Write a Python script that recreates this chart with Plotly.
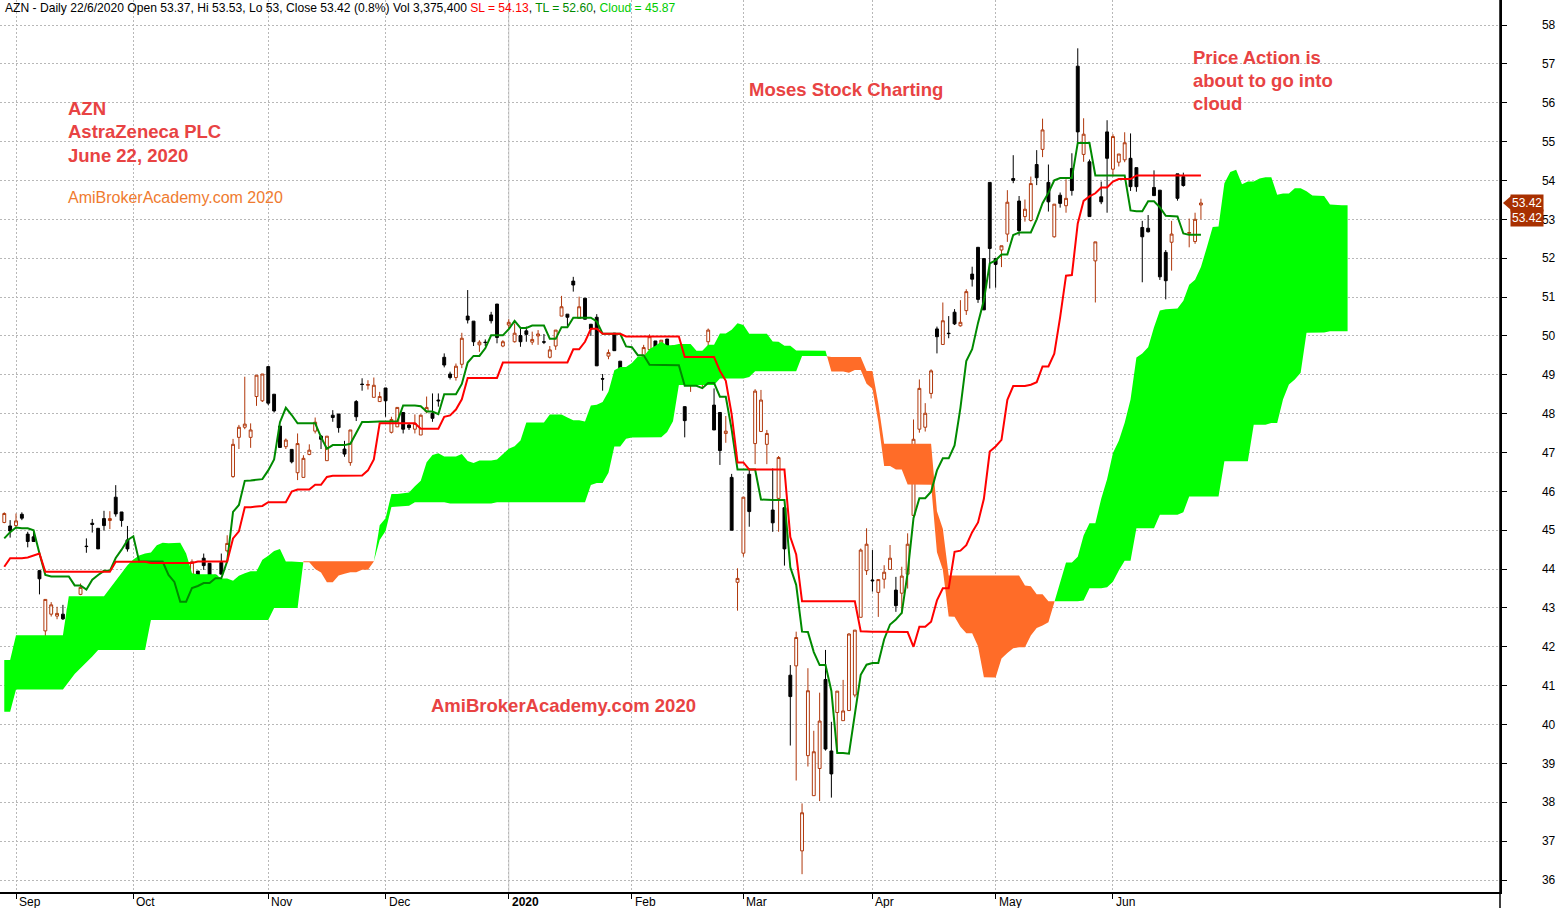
import numpy as np
import pandas as pd
import plotly.graph_objects as go

# ---------------- data ----------------
symbol = "AZN"
company = "AstraZeneca PLC"
chart_date = "June 22, 2020"
site = "AmiBrokerAcademy.com 2020"
title_note = "Moses Stock Charting"
comment_lines = ["Price Action is", "about to go into", "cloud"]
last_volume = "3,375,400"

holidays = ["2019-09-02", "2019-11-28", "2019-12-25", "2020-01-01",
            "2020-01-20", "2020-02-17", "2020-04-10", "2020-05-25"]
dates = [d for d in pd.bdate_range("2019-08-29", "2020-06-22")
         if d.strftime("%Y-%m-%d") not in holidays]

open_ = [45.20, 45.11, 45.12, 45.41, 44.90, 44.83, 43.96, 42.41, 42.84, 42.79,
         42.84, 42.99, 43.08, 43.35, 44.59, 45.18, 45.05, 45.30, 45.25, 45.85,
         45.47, 44.75, 44.00, 42.79, 42.84, 43.33, 43.39, 43.40, 43.46, 43.16,
         43.72, 43.95, 43.70, 43.95, 44.28, 44.15, 43.84, 44.17, 44.47, 46.38,
         47.39, 47.65, 47.39, 48.44, 48.33, 49.21, 48.50, 47.68, 47.15, 47.08,
         46.48, 46.36, 46.95, 47.55, 47.42, 46.79, 47.96, 47.99, 47.09, 46.74,
         48.31, 48.76, 48.73, 48.42, 48.31, 48.66, 47.52, 47.66, 48.03, 47.71,
         47.60, 47.45, 48.05, 48.01, 48.35, 49.45, 49.02, 48.93, 49.27, 50.51,
         50.38, 49.77, 49.84, 50.54, 50.82, 49.74, 50.28, 49.85, 50.01, 50.13,
         49.84, 50.00, 49.85, 49.45, 49.74, 50.51, 50.56, 51.41, 50.45, 50.97,
         50.30, 50.48, 48.90, 49.48, 50.07, 49.35, 49.15, 48.61, 48.72, 49.42,
         49.65, 49.87, 49.45, 49.92, 49.74, 48.78, 48.18, 48.92, 49.34, 48.85,
         49.85, 48.22, 48.03, 47.49, 46.36, 43.66, 44.41, 46.44, 47.23, 47.54,
         47.21, 45.52, 45.82, 45.58, 41.27, 41.51, 36.75, 39.20, 38.17, 38.87,
         41.16, 39.32, 40.31, 40.10, 40.36, 40.76, 42.76, 43.96, 43.72, 43.40,
         43.74, 43.99, 43.46, 43.38, 43.87, 45.38, 47.60, 47.65, 48.52, 50.18,
         49.78, 50.07, 50.61, 50.26, 50.65, 51.59, 52.28, 51.99, 53.95, 51.99,
         52.21, 52.62, 54.05, 53.47, 53.07, 52.97, 54.41, 54.80, 53.95, 52.55,
         53.62, 53.35, 54.31, 56.94, 54.67, 54.48, 51.93, 53.58, 55.25, 54.29,
         54.47, 54.53, 54.57, 54.33, 52.79, 52.77, 53.82, 53.75, 52.15, 52.41,
         54.17, 54.10, 52.64, 52.43, 53.37]
high = [45.46, 45.26, 45.43, 45.46, 44.96, 45.00, 43.98, 43.22, 43.15, 43.03,
        43.08, 43.01, 43.20, 43.63, 44.79, 45.29, 45.05, 45.50, 45.49, 46.16,
        45.47, 45.11, 44.06, 42.90, 43.20, 43.45, 43.74, 43.40, 43.55, 43.56,
        44.09, 44.04, 44.25, 43.95, 44.40, 44.15, 43.84, 44.40, 44.87, 47.35,
        47.71, 48.95, 47.75, 48.99, 49.02, 49.21, 48.50, 47.68, 47.36, 47.08,
        47.49, 46.93, 47.21, 47.90, 47.45, 47.42, 48.09, 47.99, 47.30, 47.58,
        48.35, 48.91, 48.86, 48.93, 48.56, 48.66, 47.92, 48.16, 48.03, 47.75,
        47.98, 47.98, 48.44, 48.52, 48.52, 49.55, 49.08, 49.29, 50.08, 51.18,
        50.38, 49.89, 49.91, 50.62, 50.82, 49.89, 50.43, 50.32, 50.20, 50.24,
        50.11, 50.15, 50.05, 49.74, 50.15, 51.03, 50.56, 51.52, 51.01, 50.97,
        50.30, 50.56, 49.02, 49.65, 50.07, 49.35, 49.15, 48.89, 49.04, 49.77,
        50.04, 49.87, 49.89, 49.92, 49.74, 49.51, 48.18, 49.10, 49.51, 49.12,
        50.19, 48.65, 48.03, 47.94, 46.45, 44.02, 45.85, 46.59, 48.63, 48.61,
        47.58, 46.59, 46.91, 45.58, 41.53, 42.39, 37.97, 41.45, 39.84, 40.82,
        41.92, 40.07, 40.86, 41.15, 42.35, 42.43, 44.53, 45.05, 44.49, 43.73,
        44.10, 44.62, 43.80, 44.06, 44.92, 47.85, 48.88, 48.27, 49.14, 50.24,
        50.86, 50.51, 50.69, 50.92, 51.20, 51.78, 52.28, 51.99, 53.95, 51.99,
        52.32, 53.75, 54.65, 53.60, 53.51, 54.10, 54.78, 55.59, 54.41, 53.39,
        53.69, 54.03, 54.70, 57.40, 55.60, 54.54, 52.42, 53.97, 55.55, 55.19,
        54.68, 55.24, 55.21, 54.33, 52.96, 53.11, 54.26, 53.75, 52.21, 52.96,
        54.17, 54.20, 53.02, 53.17, 53.53]
low = [45.18, 44.81, 45.05, 45.26, 44.56, 44.71, 43.35, 42.16, 42.78, 42.71,
       42.69, 42.41, 42.84, 43.33, 44.42, 44.94, 44.52, 44.99, 45.03, 45.35,
       45.09, 44.45, 43.53, 42.23, 42.78, 43.12, 43.37, 42.88, 43.36, 43.13,
       43.53, 43.81, 43.65, 43.59, 43.98, 43.63, 43.61, 43.87, 44.43, 46.35,
       47.09, 47.60, 47.12, 48.20, 48.30, 48.22, 48.03, 47.13, 47.09, 46.72,
       46.29, 46.36, 46.93, 47.49, 47.09, 46.79, 47.79, 47.51, 46.89, 46.66,
       47.81, 48.59, 48.62, 48.42, 48.31, 47.92, 47.49, 47.66, 47.49, 47.58,
       47.49, 47.45, 48.01, 47.79, 48.18, 49.19, 48.88, 48.85, 49.17, 50.32,
       49.74, 49.59, 49.74, 50.32, 49.81, 49.71, 50.20, 49.83, 49.72, 49.85,
       49.77, 49.77, 49.79, 49.42, 49.64, 50.51, 50.24, 51.14, 50.45, 50.43,
       50.00, 49.23, 48.59, 49.40, 49.62, 48.95, 48.45, 48.45, 48.68, 49.21,
       49.50, 49.35, 49.34, 49.55, 49.34, 48.78, 47.39, 48.56, 49.05, 48.68,
       49.68, 47.58, 46.68, 47.25, 45.00, 42.93, 44.32, 45.09, 46.70, 47.54,
       46.70, 44.96, 44.96, 44.09, 39.46, 38.56, 36.15, 38.92, 38.17, 38.03,
       39.33, 38.12, 39.34, 40.10, 40.36, 40.70, 42.76, 43.85, 43.42, 42.77,
       43.50, 43.99, 42.90, 42.84, 43.50, 45.38, 47.51, 47.54, 48.39, 49.55,
       49.78, 49.94, 50.28, 50.24, 50.54, 51.27, 50.85, 50.67, 51.22, 51.24,
       51.77, 52.42, 53.93, 52.58, 52.94, 52.94, 53.88, 54.60, 53.20, 52.53,
       53.30, 53.17, 53.61, 54.96, 54.48, 53.07, 50.86, 53.39, 53.17, 54.10,
       54.36, 54.47, 53.73, 53.71, 51.38, 52.66, 53.61, 51.44, 50.94, 51.68,
       53.48, 53.84, 52.28, 52.37, 53.00]
close = [45.43, 44.98, 45.24, 45.31, 44.71, 44.71, 43.75, 43.22, 43.08, 42.86,
         42.72, 42.46, 43.10, 43.53, 44.58, 45.15, 44.52, 45.12, 45.30, 45.42,
         45.25, 44.52, 43.63, 42.41, 43.15, 43.27, 43.41, 43.02, 43.36, 43.56,
         43.53, 43.81, 44.19, 43.75, 44.09, 43.84, 43.68, 43.87, 44.66, 47.21,
         47.65, 47.73, 47.58, 48.99, 49.02, 48.27, 48.07, 47.13, 47.32, 46.76,
         47.23, 46.85, 47.06, 47.78, 47.34, 47.42, 47.90, 47.64, 46.96, 47.58,
         47.92, 48.75, 48.75, 48.73, 48.44, 48.33, 47.85, 48.16, 47.60, 47.64,
         47.75, 47.96, 48.16, 47.88, 48.33, 49.25, 48.93, 49.22, 49.94, 50.41,
         49.85, 49.84, 49.83, 50.39, 49.96, 49.85, 50.35, 50.07, 49.85, 50.04,
         49.91, 50.05, 49.84, 49.64, 50.15, 50.75, 50.48, 51.31, 50.75, 50.43,
         50.18, 49.23, 48.89, 49.57, 49.62, 49.05, 48.68, 48.45, 48.71, 49.70,
         49.98, 49.35, 49.89, 49.74, 49.53, 49.31, 47.82, 49.10, 49.25, 48.91,
         50.15, 47.58, 47.05, 47.55, 45.00, 43.76, 45.85, 45.48, 48.58, 48.35,
         47.49, 45.19, 46.87, 44.52, 40.72, 42.24, 37.73, 40.87, 39.30, 40.09,
         39.37, 38.73, 40.86, 40.35, 42.33, 42.43, 44.49, 44.64, 43.70, 43.73,
         43.92, 44.28, 43.06, 43.82, 44.64, 47.34, 48.65, 48.01, 49.10, 49.98,
         50.39, 50.06, 50.31, 50.35, 51.14, 51.46, 50.94, 50.67, 52.25, 51.84,
         52.32, 53.44, 54.00, 52.71, 53.26, 53.92, 54.07, 55.30, 53.45, 53.39,
         53.41, 53.54, 53.74, 55.25, 55.19, 53.07, 52.42, 53.45, 54.57, 55.13,
         54.68, 54.97, 53.84, 53.84, 52.55, 52.68, 53.61, 51.52, 51.42, 52.62,
         53.54, 53.87, 52.66, 53.00, 53.42]

# indicator values before enough history exists on the chart
tenkan_head = [44.79, 44.95, 45.07, 45.05, 45.05, 45.00, 44.40, 43.85]
kijun_head = [44.06, 44.28, 44.28, 44.28, 44.30, 44.36, 44.40, 43.93, 43.93, 43.93,
              43.93, 43.93, 43.93, 43.93, 43.93, 43.93, 43.93, 43.93, 43.93, 44.19,
              44.19, 44.19, 44.19, 44.19, 44.19]
span_a_head = [41.66, 41.66, 42.30, 42.30, 42.30, 42.30, 42.30, 42.30, 42.30, 42.30,
               42.30, 43.30, 43.30, 43.30, 43.30, 43.30, 43.30, 43.30, 43.50, 43.70,
               43.90, 44.10, 44.25, 44.35, 44.40]
span_b_head = [40.33, 40.33, 40.90, 40.90, 40.90, 40.90, 40.90, 40.90, 40.90, 40.90,
               40.90, 41.10, 41.30, 41.45, 41.60, 41.75, 41.92, 41.92, 41.92, 41.92,
               41.92, 41.92, 41.92, 41.92, 41.92, 42.69, 42.69, 42.69, 42.69, 42.69,
               42.69, 42.69, 42.69, 42.69, 42.69, 42.69, 42.69, 42.69, 42.69, 42.69,
               42.69, 42.69, 42.69, 42.69, 42.69, 42.69, 43.00, 43.00, 43.00, 43.00,
               43.00, 44.20, 44.20, 44.20, 44.20, 44.20, 44.20, 44.20, 44.20, 44.20,
               44.20, 44.20, 44.20, 44.20, 44.75, 44.98, 45.60, 45.60, 45.62, 45.63,
               45.72, 45.72, 45.72, 45.72, 45.72, 45.72]

TENKAN_N, KIJUN_N, SENKOU_N = 9, 26, 52

# ---------------- indicator ----------------
H = np.array(high)
L = np.array(low)
n = len(close)


def midpoint(i, w):
    return (H[i - w + 1:i + 1].max() + L[i - w + 1:i + 1].min()) / 2


tenkan = np.array([tenkan_head[i] if i < len(tenkan_head) else midpoint(i, TENKAN_N)
                   for i in range(n)])
kijun = np.array([kijun_head[i] if i < len(kijun_head) else midpoint(i, KIJUN_N)
                  for i in range(n)])
span_a = np.concatenate([span_a_head, (tenkan + kijun) / 2])
span_b = np.concatenate([span_b_head,
                         [midpoint(i, SENKOU_N) for i in range(SENKOU_N - 1, n)]])
m = min(len(span_a), len(span_b))
span_a, span_b = span_a[:m], span_b[:m]

# ---------------- colours ----------------
UP = "#b0380c"
GREEN_CLOUD = "#00ff00"
ORANGE_CLOUD = "#ff6c28"
TENKAN_C = "#008a00"
KIJUN_C = "#ff0000"
TEXT_RED = "#e84343"
TEXT_ORANGE = "#ef7b2f"
FONT = "Liberation Sans, Arial, sans-serif"

fig = go.Figure()

# cloud: split into runs where span A is above / below span B
d = span_a - span_b
runs = []
sign = d[0] >= 0
px = [0.0]
top = [max(span_a[0], span_b[0])]
bot = [min(span_a[0], span_b[0])]
for k in range(1, m):
    s = d[k] >= 0
    if s != sign:
        t = d[k - 1] / (d[k - 1] - d[k])
        xc = (k - 1) + t
        yc = span_a[k - 1] + t * (span_a[k] - span_a[k - 1])
        px.append(xc); top.append(yc); bot.append(yc)
        runs.append((sign, px, top, bot))
        px, top, bot = [xc], [yc], [yc]
        sign = s
    px.append(float(k))
    top.append(max(span_a[k], span_b[k]))
    bot.append(min(span_a[k], span_b[k]))
runs.append((sign, px, top, bot))

for s, rx, rt, rb in runs:
    fig.add_trace(go.Scatter(
        x=list(rx) + list(rx[::-1]), y=list(rt) + list(rb[::-1]),
        fill="toself", mode="lines", line=dict(width=0),
        fillcolor=GREEN_CLOUD if s else ORANGE_CLOUD,
        hoverinfo="skip"))

idx = np.arange(n)
fig.add_trace(go.Candlestick(
    x=idx, open=open_, high=high, low=low, close=close,
    increasing=dict(line=dict(color=UP, width=1), fillcolor="white"),
    decreasing=dict(line=dict(color="black", width=1), fillcolor="black"),
    whiskerwidth=0, hoverinfo="skip"))

fig.add_trace(go.Scatter(x=idx, y=tenkan, mode="lines",
                         line=dict(color=TENKAN_C, width=2), hoverinfo="skip"))
fig.add_trace(go.Scatter(x=idx, y=kijun, mode="lines",
                         line=dict(color=KIJUN_C, width=2), hoverinfo="skip"))

# ---------------- axes ----------------
month_idx = [i for i in range(1, n) if dates[i].month != dates[i - 1].month]
month_lbl = [("<b>%d</b>" % dates[i].year) if dates[i].month == 1
             else dates[i].strftime("%b") for i in month_idx]
year_idx = [i for i in month_idx if dates[i].month == 1]

PLOT_W, PLOT_H = 1500, 892
x0_px, px_per_day = 4.27, 5.866
y58_px, px_per_unit = 25.0, 38.864
x_range = [-x0_px / px_per_day, (PLOT_W - x0_px) / px_per_day]
y_range = [58 - (PLOT_H - y58_px) / px_per_unit, 58 + y58_px / px_per_unit]

yticks = list(range(36, 59))

fig.update_layout(
    width=1561, height=908,
    margin=dict(l=0, r=61, t=0, b=16),
    plot_bgcolor="white", paper_bgcolor="white",
    showlegend=False, hovermode=False,
    xaxis=dict(range=x_range, tickvals=month_idx, showticklabels=False,
               ticks="outside", ticklen=5, tickcolor="black",
               showgrid=True, gridcolor="#b8b8b8", griddash="2px,2px", gridwidth=1,
               showline=True, linecolor="black", linewidth=1.5,
               zeroline=False, rangeslider=dict(visible=False), fixedrange=True),
    yaxis=dict(range=y_range, side="right", tickvals=yticks,
               ticks="outside", ticklen=5, tickcolor="black",
               tickfont=dict(family=FONT, size=12, color="black"),
               ticklabelstandoff=33,
               showgrid=True, gridcolor="#b8b8b8", griddash="2px,2px", gridwidth=1,
               showline=True, linecolor="black", linewidth=1.5,
               zeroline=False, fixedrange=True),
)

shapes = []
for i in year_idx:
    shapes.append(dict(type="line", xref="x", yref="paper", x0=i, x1=i, y0=0, y1=1,
                       line=dict(color="#c8c8c8", width=1), layer="below"))
shapes.append(dict(type="line", xref="paper", yref="paper", x0=1, x1=1,
                   y0=-16 / PLOT_H, y1=1, line=dict(color="black", width=1.5)))
# price marker arrow
shapes.append(dict(type="path", xref="paper", yref="y", xsizemode="pixel",
                   ysizemode="pixel", xanchor=1, yanchor=close[-1],
                   path="M 3 0 L 11 7 L 11 -7 Z", fillcolor="#a83000",
                   line=dict(width=0)))
fig.update_layout(shapes=shapes)

ann = []
for i, lbl in zip(month_idx, month_lbl):
    ann.append(dict(x=i, y=0, xref="x", yref="paper", text=lbl, showarrow=False,
                    xanchor="left", yanchor="top", xshift=1, yshift=-1,
                    font=dict(family=FONT, size=12, color="black")))


def P(xp, yp):
    return xp / PLOT_W, 1 - yp / PLOT_H


def fmt(v):
    return ("%.2f" % v).rstrip("0").rstrip(".")


last = dates[-1]
pct = (close[-1] / close[-2] - 1) * 100
header = ("%s - Daily %d/%d/%d Open %s, Hi %s, Lo %s, Close %s (%.1f%%) Vol %s "
          % (symbol, last.day, last.month, last.year, fmt(open_[-1]), fmt(high[-1]),
             fmt(low[-1]), fmt(close[-1]), pct, last_volume)
          + "<span style='color:#ff0000'>SL = %.2f</span>, " % kijun[-1]
          + "<span style='color:#008a00'>TL = %.2f</span>, " % tenkan[-1]
          + "<span style='color:#00cc00'>Cloud = %.2f</span>"
          % min(span_a[n - 1], span_b[n - 1]))
hx, hy = P(3, 0)
ann.append(dict(x=hx, y=hy, xref="paper", yref="paper", text=header, showarrow=False,
                xanchor="left", yanchor="top", yshift=1,
                font=dict(family=FONT, size=12.1, color="black")))


def label(text, xp, yp, color, bold=True, size=18.5):
    ax, ay = P(xp, yp)
    ann.append(dict(x=ax, y=ay, xref="paper", yref="paper",
                    text=("<b>%s</b>" % text) if bold else text, showarrow=False,
                    xanchor="left", yanchor="middle", xshift=-2,
                    font=dict(family=FONT, size=size, color=color)))


label(symbol, 68, 109, TEXT_RED)
label(company, 68, 132, TEXT_RED)
label(chart_date, 68, 155, TEXT_RED)
label(site, 68, 198, TEXT_ORANGE, bold=False, size=16)
label(title_note, 749, 90, TEXT_RED)
for k, line in enumerate(comment_lines):
    label(line, 1193, 57 + 23 * k, TEXT_RED)
label(site, 431, 705, TEXT_RED)

# last price boxes
for dy in (0, -15):
    ann.append(dict(x=1, y=close[-1], xref="paper", yref="y", text="%.2f" % close[-1],
                    showarrow=False, xanchor="left", yanchor="middle",
                    xshift=10, yshift=dy, bgcolor="#a83000", borderpad=1,
                    font=dict(family=FONT, size=12, color="white")))

fig.update_layout(annotations=ann)
fig.write_html("out.html",
               config={"displayModeBar": False, "staticPlot": True},
               post_script="document.body.style.margin='0';"
                           "document.body.style.overflow='hidden';")
